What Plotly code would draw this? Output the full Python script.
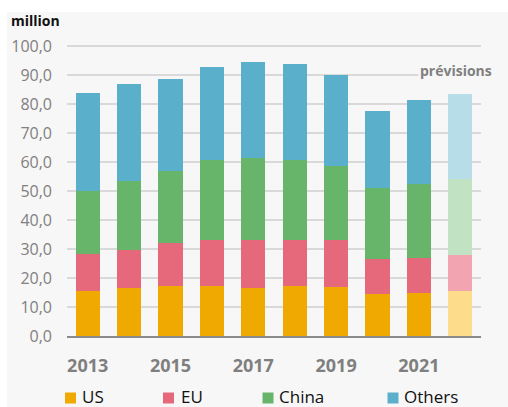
import plotly.graph_objects as go

# Annual volumes (million), stacked by region; the last year is a forecast
years = [2013, 2014, 2015, 2016, 2017, 2018, 2019, 2020, 2021, 2022]
us = [15.5, 16.4, 17.2, 17.2, 16.7, 17.2, 16.9, 14.4, 14.8, 15.5]
eu = [12.9, 13.4, 14.9, 15.8, 16.3, 15.8, 16.1, 12.3, 12.2, 12.3]
china = [21.6, 23.6, 24.7, 27.8, 28.4, 27.8, 25.5, 24.4, 25.6, 26.2]
others = [34.0, 33.6, 31.8, 31.9, 33.3, 33.1, 31.4, 26.5, 28.7, 29.6]

series_names = ["US", "EU", "China", "Others"]
series_values = [us, eu, china, others]
base_colors = ["#f0a900", "#e6687b", "#67b46b", "#5aafca"]
forecast_colors = ["#fddd8c", "#f2a5b0", "#c1e2c3", "#b7dde8"]
forecast_year = 2022

x_tick_years = [2013, 2015, 2017, 2019, 2021]
x_tick_text = ["2013", "2015", "2017", "2019", "2021"]

W, H = 508, 407
ML, MR, MT, MB = 67, 27, 45, 71
PW, PH = W - ML - MR, H - MT - MB


def px_x(p):
    return (p - ML) / PW


def px_y(p):
    return (H - MB - p) / PH


fig = go.Figure()
for name, vals, c, fc in zip(series_names, series_values, base_colors, forecast_colors):
    colors = [fc if y == forecast_year else c for y in years]
    fig.add_trace(go.Bar(x=years, y=vals, name=name, marker=dict(color=colors, line=dict(width=0)),
                         showlegend=False))

font_family = "Open Sans"

# light panel behind the chart
shapes = [dict(type="rect", xref="paper", yref="paper", x0=px_x(7), x1=px_x(W + 2),
               y0=px_y(H + 2), y1=px_y(12), fillcolor="#f7f7f7", line=dict(width=0), layer="below")]

annotations = [
    dict(text="<b>million</b>", xref="paper", yref="paper", x=px_x(9), y=px_y(20),
         xanchor="left", yanchor="middle", showarrow=False,
         font=dict(family=font_family, size=14, color="#111111")),
    dict(text="<b>prévisions</b>", xref="paper", yref="paper", x=px_x(418), y=px_y(70),
         xanchor="left", yanchor="middle", showarrow=False, bgcolor="#f7f7f7",
         font=dict(family=font_family, size=14, color="#808080")),
]

# legend row below the axis
legend_sq = [65, 163, 262.5, 387.5]
legend_txt = [80.5, 180, 278, 403]
for name, c, sx, tx in zip(series_names, base_colors, legend_sq, legend_txt):
    shapes.append(dict(type="rect", xref="paper", yref="paper", x0=px_x(sx), x1=px_x(sx + 11),
                       y0=px_y(403.5), y1=px_y(392.5), fillcolor=c, line=dict(width=0)))
    annotations.append(dict(text=name, xref="paper", yref="paper", x=px_x(tx), y=px_y(396),
                            xanchor="left", yanchor="middle", showarrow=False, borderpad=0,
                            font=dict(family=font_family, size=17, color="#111111")))

fig.update_layout(
    width=W, height=H,
    margin=dict(l=ML, r=MR, t=MT, b=MB, pad=0),
    barmode="stack", bargap=0.42,
    paper_bgcolor="white", plot_bgcolor="rgba(0,0,0,0)",
    separators=", ",
    font=dict(family=font_family),
    shapes=shapes, annotations=annotations,
    xaxis=dict(range=[2012.5, 2022.5], tickvals=x_tick_years, ticktext=x_tick_text,
               tickfont=dict(family=font_family, size=18, color="#7f7f7f", weight="bold"),
               showgrid=False, showline=True, linecolor="#8a8a8a", linewidth=2,
               ticks="", ticklabelstandoff=12, fixedrange=True),
    yaxis=dict(range=[0, 100.4], dtick=10, tick0=0, tickformat=".1f",
               tickfont=dict(family=font_family, size=16, color="#808080"),
               showgrid=True, gridcolor="#d9d9d9", gridwidth=2, zeroline=False,
               showline=False, ticks="", ticklabelstandoff=14, fixedrange=True),
)

fig.write_html("out.html")
